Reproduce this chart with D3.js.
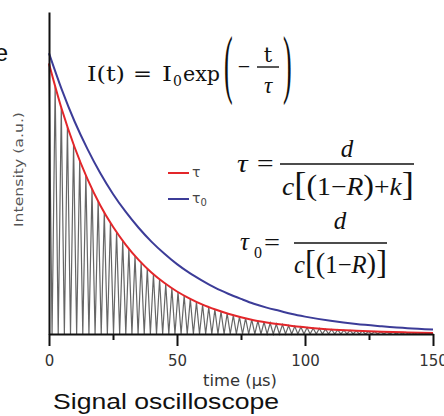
<!DOCTYPE html>
<html>
<head>
<meta charset="utf-8">
<script src="https://cdn.jsdelivr.net/npm/d3@7"></script>
<style>
  html, body { margin: 0; padding: 0; background: #fff; }
  svg { display: block; }
</style>
</head>
<body>
<svg id="chart" width="444" height="416"></svg>
<script>
// time axis
const xTicks = [0, 50, 100, 150];
const xMinorTicks = [25, 75, 125];

// fitted envelopes (time in us, intensity in a.u.)
const curveTimes = [0, 5, 10, 15, 20, 25, 30, 35, 40, 45, 50, 55, 60, 65, 70, 75, 80, 85, 90, 95, 100, 110, 120, 130, 140, 150];
const tauValues = [0.840, 0.698, 0.580, 0.482, 0.400, 0.333, 0.277, 0.230, 0.191, 0.159, 0.132, 0.110, 0.091, 0.076, 0.063, 0.052, 0.043, 0.036, 0.030, 0.025, 0.021, 0.014, 0.010, 0.007, 0.005, 0.003];
const tau0Values = [0.872, 0.759, 0.660, 0.575, 0.500, 0.435, 0.379, 0.330, 0.287, 0.250, 0.217, 0.189, 0.165, 0.143, 0.125, 0.109, 0.094, 0.082, 0.072, 0.062, 0.054, 0.041, 0.031, 0.024, 0.018, 0.014];

// oscilloscope trace: one peak every `period` us, peak heights
const period = 2.4;
const peakAmp = [0.840, 0.769, 0.703, 0.643, 0.589, 0.539, 0.493, 0.451, 0.413, 0.377,
  0.345, 0.316, 0.289, 0.265, 0.242, 0.221, 0.203, 0.185, 0.170, 0.155,
  0.142, 0.130, 0.119, 0.109, 0.099, 0.091, 0.083, 0.076, 0.070, 0.064,
  0.058, 0.053, 0.049, 0.045, 0.041, 0.037, 0.034, 0.031, 0.029, 0.026,
  0.024, 0.022, 0.020, 0.018, 0.017, 0.015, 0.014, 0.013, 0.012, 0.011,
  0.010, 0.009, 0.008, 0.008, 0.007, 0.006, 0.006, 0.005, 0.005, 0.004,
  0.004, 0.004, 0.003];

const legendItems = [
  { key: "tau", label: "τ", sub: "", color: "#e3262a" },
  { key: "tau0", label: "τ", sub: "0", color: "#3c3c98" }
];

const svg = d3.select("#chart");

const x = d3.scaleLinear().domain([0, 150]).range([49, 433]);
const y = d3.scaleLinear().domain([0, 1]).range([334, 12]);

// trace
let trace = [];
peakAmp.forEach((a, i) => {
  trace.push([i * period, a]);
  trace.push([i * period + period / 2, 0]);
});

const line = d3.line().x((d) => x(d[0])).y((d) => y(d[1]));
const smooth = d3.line().x((d) => x(d[0])).y((d) => y(d[1])).curve(d3.curveMonotoneX);

svg.append("path")
  .attr("d", line(trace))
  .attr("fill", "none")
  .attr("stroke", "#666")
  .attr("stroke-width", 1.2);

svg.append("path")
  .attr("d", smooth(curveTimes.map((t, i) => [t, tauValues[i]])))
  .attr("fill", "none")
  .attr("stroke", legendItems[0].color)
  .attr("stroke-width", 2);

svg.append("path")
  .attr("d", smooth(curveTimes.map((t, i) => [t, tau0Values[i]])))
  .attr("fill", "none")
  .attr("stroke", legendItems[1].color)
  .attr("stroke-width", 2);

// axes
const xAxis = svg.append("g")
  .attr("transform", "translate(0," + y(0) + ")")
  .call(d3.axisBottom(x).tickValues(xTicks).tickSize(12).tickSizeOuter(0).tickPadding(9));
xAxis.selectAll("text")
  .attr("font-family", "DejaVu Sans")
  .attr("font-size", 15)
  .attr("fill", "#333");

svg.append("g")
  .attr("transform", "translate(0," + y(0) + ")")
  .call(d3.axisBottom(x).tickValues(xMinorTicks).tickSize(6).tickFormat(""))
  .call((g) => g.select(".domain").remove());

svg.append("g")
  .attr("transform", "translate(" + x(0) + ",0)")
  .call(d3.axisLeft(y).tickValues([]).tickSizeOuter(0));

svg.selectAll(".domain, .tick line")
  .attr("stroke", "#111")
  .attr("stroke-width", 2);

// axis titles
svg.append("text")
  .attr("x", 203).attr("y", 386)
  .attr("font-family", "DejaVu Sans")
  .attr("font-size", 15)
  .attr("fill", "#333")
  .attr("textLength", 74)
  .attr("lengthAdjust", "spacingAndGlyphs")
  .text("time (µs)");

svg.append("text")
  .attr("transform", "translate(23,227) rotate(-90)")
  .attr("font-family", "DejaVu Sans")
  .attr("font-size", 13)
  .attr("fill", "#555")
  .attr("textLength", 115)
  .attr("lengthAdjust", "spacingAndGlyphs")
  .text("Intensity (a.u.)");

svg.append("text")
  .attr("x", 53).attr("y", 409)
  .attr("font-family", "Liberation Sans, Arial, sans-serif")
  .attr("font-size", 22)
  .attr("fill", "#111")
  .attr("textLength", 226)
  .attr("lengthAdjust", "spacingAndGlyphs")
  .text("Signal oscilloscope");

// cut-off letter at the top-left edge
svg.append("text")
  .attr("x", 8).attr("y", 61)
  .attr("text-anchor", "end")
  .attr("font-family", "Liberation Sans, Arial, sans-serif")
  .attr("font-size", 24)
  .attr("fill", "#111")
  .text("e");

// legend
const legend = svg.append("g").selectAll("g")
  .data(legendItems)
  .join("g")
  .attr("transform", (d, i) => "translate(168," + (173 + i * 26) + ")");
legend.append("line")
  .attr("x1", 0).attr("x2", 21)
  .attr("stroke", (d) => d.color)
  .attr("stroke-width", 2);
const lt = legend.append("text")
  .attr("x", 24).attr("y", 4)
  .attr("font-family", "DejaVu Sans")
  .attr("font-size", 14)
  .attr("fill", "#444");
lt.append("tspan").text((d) => d.label);
lt.append("tspan").attr("dy", 3).attr("font-size", 10).text((d) => d.sub);

// equations
const serif = "DejaVu Serif";
const times = "Liberation Serif, Times New Roman, serif";
function put(x0, y0, s, size, fam, opts) {
  const t = svg.append("text")
    .attr("x", x0).attr("y", y0)
    .attr("font-family", fam)
    .attr("font-size", size)
    .attr("fill", "#111")
    .text(s);
  if (opts && opts.italic) t.attr("font-style", "italic");
  if (opts && opts.anchor) t.attr("text-anchor", opts.anchor);
  if (opts && opts.len) t.attr("textLength", opts.len).attr("lengthAdjust", "spacingAndGlyphs");
  return t;
}
function rule(x1, x2, yy) {
  svg.append("line")
    .attr("x1", x1).attr("x2", x2).attr("y1", yy).attr("y2", yy)
    .attr("stroke", "#111").attr("stroke-width", 1.4);
}

// I(t) = I0 exp(-t/tau)
put(87, 81, "I(t)", 21, serif, { len: 38 });
put(133, 81, "=", 21, serif, { len: 19 });
put(162, 81, "I", 21, serif, { len: 10 });
put(173, 86, "0", 14, serif);
put(183, 81, "exp", 21, serif, { len: 37 });
put(0, 0, "(", 40, times).attr("transform", "translate(224,89) scale(0.65,1.9)");
put(244, 74, "−", 22, times, { anchor: "middle" });
put(268, 62, "t", 21, serif, { anchor: "middle" });
rule(257, 279, 67);
put(268, 93, "τ", 23, times, { anchor: "middle", italic: true });
put(0, 0, ")", 40, times).attr("transform", "translate(283,89) scale(0.65,1.9)");

// tau = d / c[(1-R)+k]
put(237, 172, "τ =", 25, times, { italic: true, len: 38 });
rule(280, 414, 164);
put(347, 157, "d", 25, times, { italic: true, anchor: "middle" });
function denom(x0, y0, len, withK) {
  const t = svg.append("text")
    .attr("x", x0).attr("y", y0)
    .attr("font-family", times)
    .attr("font-size", 25)
    .attr("fill", "#111")
    .attr("textLength", len)
    .attr("lengthAdjust", "spacingAndGlyphs");
  t.append("tspan").attr("font-style", "italic").text("c");
  t.append("tspan").attr("font-size", 33).text("[");
  t.append("tspan").attr("font-size", 29).text("(");
  t.append("tspan").text("1−");
  t.append("tspan").attr("font-style", "italic").text("R");
  t.append("tspan").attr("font-size", 29).text(")");
  if (withK) {
    t.append("tspan").text("+");
    t.append("tspan").attr("font-style", "italic").text("k");
  }
  t.append("tspan").attr("font-size", 33).text("]");
}
denom(282, 195, 132, true);

// tau0 = d / c[(1-R)]
put(240, 250, "τ", 25, times, { italic: true });
put(254, 258, "0", 16, times);
put(264, 251, "=", 25, times, { len: 16 });
rule(294, 387, 243);
put(340, 229, "d", 25, times, { italic: true, anchor: "middle" });
denom(294, 273, 93, false);
</script>
</body>
</html>
